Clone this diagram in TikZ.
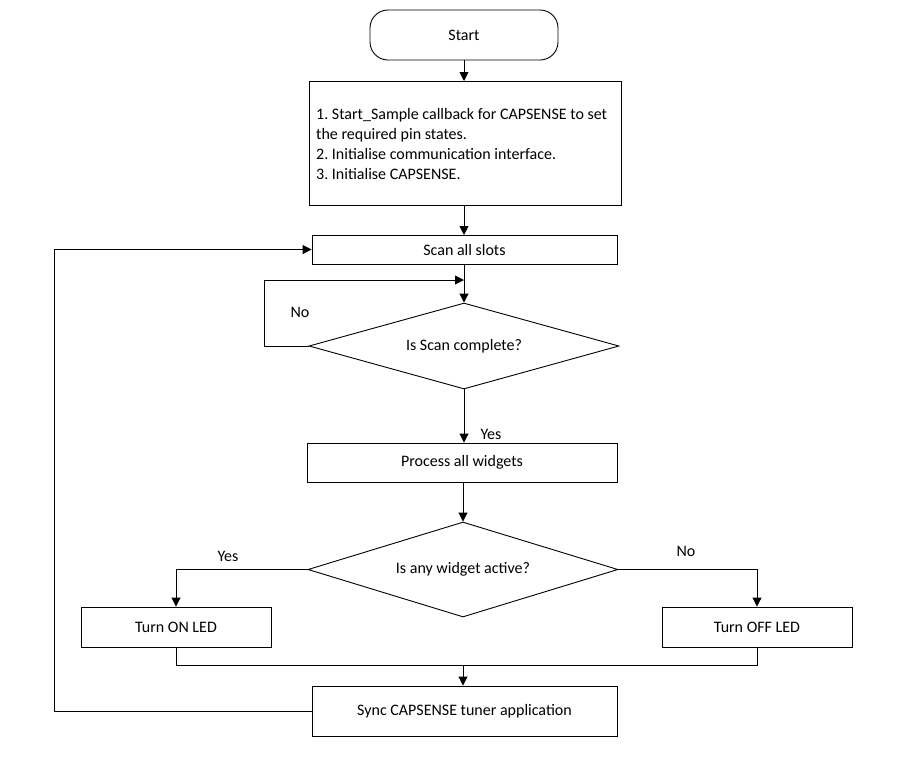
\documentclass[tikz,border=0pt]{standalone}
\usepackage{fontspec}
\setmainfont{Carlito}
\usetikzlibrary{shapes.geometric,arrows.meta}
\begin{document}
\frenchspacing
\begin{tikzpicture}[x=1pt,y=-1pt,
  every node/.style={font=\fontsize{16}{19.7}\selectfont},
  box/.style={draw,line width=0.9pt,rectangle,inner sep=0pt},
  term/.style={draw,line width=0.9pt,rectangle,rounded corners=18pt,inner sep=0pt,minimum width=188pt,minimum height=50pt},
  dia/.style={draw,line width=0.9pt,diamond,inner sep=0pt},
  arr/.style={line width=0.9pt,-{Triangle[length=9pt,width=9pt]}},
  ln/.style={line width=0.9pt}]
\useasboundingbox (0,0) rectangle (912,756);
\node[term] (start) at (464,35) {Start};
\node[box,minimum width=312pt,minimum height=124pt] (init) at (465,143) {};
\node[anchor=west,align=left,inner sep=0pt] (tinit) at (316,144)
 {1. Start\_Sample callback for CAPSENSE to set\\the required pin states.\\2. Initialise communication interface.\\3. Initialise CAPSENSE.};
\node[box,minimum width=305pt,minimum height=29pt] (scan) at (464.5,249.5) {Scan all slots};
\node[dia,minimum width=310pt,minimum height=86pt] (d1) at (464,346) {};
\node (t1) at (d1.center) {Is Scan complete?};
\node[box,minimum width=310pt,minimum height=39pt] (proc) at (462,462.5) {Process all widgets};
\node[dia,minimum width=310pt,minimum height=95pt] (d2) at (463,569.5) {};
\node (t2) at (d2.center) {Is any widget active?};
\node[box,minimum width=190pt,minimum height=40pt] (on) at (176,627) {Turn ON LED};
\node[box,minimum width=190pt,minimum height=40pt] (off) at (757,627) {Turn OFF LED};
\node[box,minimum width=305pt,minimum height=50pt] (sync) at (464.5,711) {Sync CAPSENSE tuner application};
\node (lno1) at (300,312) {No};
\node (lyes1) at (491,434) {Yes};
\node (lyes2) at (228,556) {Yes};
\node (lno2) at (686,551) {No};
\coordinate (j1) at (464,280);
\coordinate (j2) at (463,665);
\coordinate (c1) at (264,346);
\coordinate (c2) at (54,711);
\draw[arr] (464,60) -- (464,81);
\draw[arr] (464,205) -- (464,235);
\draw[arr] (464,264) -- (d1.north);
\draw[arr] (d1.west) -- (c1) |- (j1);
\draw[arr] (d1.south) -- (d1.south |- proc.north);
\draw[arr] (proc.south -| d2.north) -- (d2.north);
\draw[arr] (d2.west) -| (on.north);
\draw[arr] (d2.east) -| (off.north);
\draw[ln] (on.south) |- (j2) -| (off.south);
\draw[arr] (j2) -- (j2 |- sync.north);
\draw[arr] (sync.west) -- (c2) |- (scan.west);
\end{tikzpicture}
\end{document}
